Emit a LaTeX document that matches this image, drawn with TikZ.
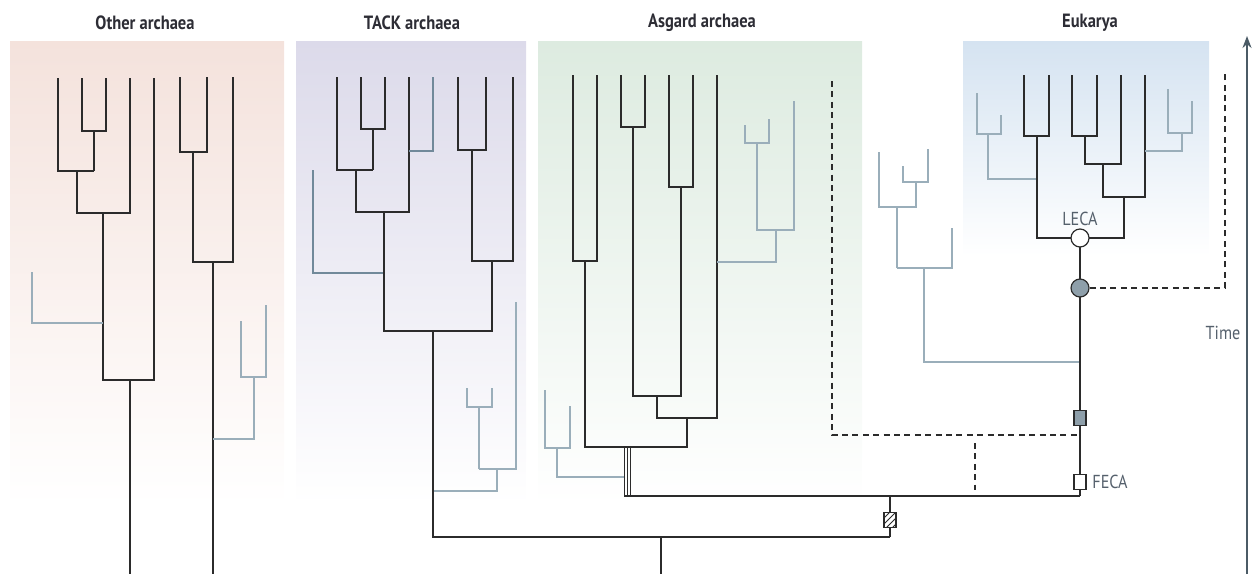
\documentclass[tikz,border=0pt]{standalone}
\usepackage{fontspec}
\setmainfont{PT Sans}
\usetikzlibrary{arrows.meta,patterns}
\definecolor{blk}{HTML}{2B2B2B}
\definecolor{gry}{HTML}{9AAEBA}
\definecolor{gryd}{HTML}{71899A}
\definecolor{mk}{HTML}{8E9FAA}
\definecolor{axc}{HTML}{4B5B66}
\definecolor{ttl}{HTML}{2D2D35}
\definecolor{lbl}{HTML}{55606C}
\definecolor{pink}{HTML}{F4E2DC}
\definecolor{lav}{HTML}{DCDAEA}
\definecolor{grn}{HTML}{DDEBE0}
\definecolor{blu}{HTML}{D5E3F1}
\newcommand{\cond}[1]{\scalebox{0.86}[1]{#1}}
\tikzset{
  bk/.style={draw=blk,line width=1.25pt,line join=miter},
  gy/.style={draw=gry,line width=1.25pt,line join=miter},
  gyd/.style={draw=gryd,line width=1.25pt,line join=miter},
  dsh/.style={draw=blk,line width=1.2pt,dash pattern=on 3pt off 2.2pt},
  title/.style={font=\bfseries\fontsize{9.6}{11}\selectfont,text=ttl,inner sep=0},
  lab/.style={font=\fontsize{9.4}{11}\selectfont,text=lbl,inner sep=0},
  sq/.style={draw=blk,line width=0.6pt,minimum width=6pt,minimum height=7.5pt,inner sep=0},
  circ/.style={circle,draw=blk,line width=0.6pt,minimum size=9pt,inner sep=0},
}
\begin{document}
\begin{tikzpicture}[x=0.5pt,y=-0.5pt]
\useasboundingbox (0,0) rectangle (1252,574);
% panels
\shade[top color=pink,bottom color=white] (10,41) rectangle (284,505);
\shade[top color=lav,bottom color=white] (296,41) rectangle (526,505);
\shade[top color=grn,bottom color=white] (538,41) rectangle (862,505);
\shade[top color=blu,bottom color=white] (963,41) rectangle (1209,256);
% titles
\node[title] (t1) at (145,23) {\cond{Other archaea}};
\node[title] (t2) at (412,23) {\cond{TACK archaea}};
\node[title] (t3) at (702,23) {\cond{Asgard archaea}};
\node[title] (t4) at (1090,23) {\cond{Eukarya}};
% ---------- Other archaea
\draw[bk] (82,78) |- (106,131) -- (106,78);
\draw[bk] (94,131) -- (94,171);
\draw[bk] (58,78) |- (94,171);
\draw[bk] (77,171) -- (77,213) -| (130,78);
\draw[bk] (103,213) -- (103,380) -| (154,78);
\draw[bk] (130,380) -- (130,574);
\draw[gy] (103,323) -| (32,272);
\draw[bk] (180,77) |- (207,152) -- (207,77);
\draw[bk] (193,152) -- (193,262) -| (233,77);
\draw[bk] (213,262) -- (213,574);
\draw[gy] (213,439) -| (254,377);
\draw[gy] (241,321) |- (266,377) -- (266,305);
% ---------- TACK
\draw[bk] (361,77) |- (385,129) -- (385,77);
\draw[bk] (373,129) -- (373,170);
\draw[bk] (337,77) |- (373,170);
\draw[bk] (356,170) -- (356,212) -| (409,77);
\draw[gyd] (409,151) -| (433,77);
\draw[gyd] (384,273) -| (313,170);
\draw[bk] (458,77) |- (486,150) -- (486,77);
\draw[bk] (472,150) -- (472,261) -| (513,77);
\draw[bk] (384,212) -- (384,331) -| (492,261);
\draw[gy] (433,491) -| (497,469);
\draw[gy] (479,469) -- (479,407);
\draw[gy] (467,388) |- (492,407) -- (492,388);
\draw[gy] (479,469) -| (516,302);
% ---------- Asgard
\draw[bk] (573,75) |- (597,261) -- (597,75);
\draw[bk] (621,75) |- (645,127) -- (645,75);
\draw[bk] (669,75) |- (693,187) -- (693,75);
\draw[bk] (633,127) -- (633,396) -| (681,187);
\draw[bk] (657,396) -- (657,418) -| (717,75);
\draw[bk] (585,261) -- (585,447) -| (687,418);
\draw[gy] (717,262) -| (776,230);
\draw[gy] (757,143) -- (757,230) -| (794,101);
\draw[gy] (745,125) |- (769,143) -- (769,119);
\draw[gy] (625,477) -| (557,448);
\draw[gy] (545,390) |- (570,448) -- (570,406);
\foreach \xx in {624.5,627.5,630.5}
  \draw[blk,line width=0.5pt] (\xx,447) -- (\xx,496);
% ---------- Eukarya
\draw[bk] (1024,75) |- (1049,136) -- (1049,75);
\draw[bk] (1072,75) |- (1097,136) -- (1097,75);
\draw[bk] (1085,136) |- (1121,164) -- (1121,75);
\draw[bk] (1103,164) |- (1145,197) -- (1145,75);
\draw[gy] (1037,179) -| (988,134);
\draw[gy] (977,93) |- (1001,134) -- (1001,115);
\draw[gy] (1145,151) -| (1182,133);
\draw[gy] (1168,89) |- (1192,133) -- (1192,101);
\draw[bk] (1037,136) -- (1037,238) -- (1124,238) -- (1124,197);
% side clade
\draw[gy] (1080,362) -| (924,268);
\draw[gy] (897,268) -| (952,228);
\draw[gy] (897,268) -- (897,207);
\draw[gy] (879,152) |- (916,207) -- (916,182);
\draw[gy] (903,166) |- (928,182) -- (928,149);
% ---------- stem and markers
\coordinate (bar) at (1080,496);
\coordinate (barL) at (624,496);
\coordinate (lowL) at (433,537);
\coordinate (lowR) at (890,537);
\coordinate (barH) at (890,496);
\draw[bk] (433,331) -- (lowL) -- (lowR);
\draw[bk] (661,537) -- (661,574);
\draw[bk] (barL) -- (bar);
\draw[bk] (barH) -- (lowR);
\draw[bk] (1080,238) -- (bar);
\node[sq,fill=white,postaction={pattern=north east lines,pattern color=blk}] (hs) at (890,520) {};
\node[sq,fill=white] (feca) at (1080,482) {};
\node[sq,fill=mk] (gsq) at (1080,418) {};
\node[circ,fill=mk] (gc) at (1080,288) {};
\node[circ,fill=white] (leca) at (1080,238) {};
\node[lab,anchor=south] (lecal) at (1080,226) {\cond{LECA}};
\node[lab,anchor=west] (fecal) at (1092,482) {\cond{FECA}};
% dashed
\draw[dsh] (832,81) |- (1078,435);
\draw[dsh] (975,443) -- (975,490);
\draw[dsh] (gc.east) -- (1225,288) -- (1225,71);
% time axis
\coordinate (tb) at (1247,574);
\coordinate (tt) at (1247,36);
\draw[axc,line width=1.2pt,-{Stealth[length=6pt,width=4.5pt]}] (tb) -- (tt);
\node[lab] (time) at (1223,333) {\cond{Time}};
\end{tikzpicture}
\end{document}
